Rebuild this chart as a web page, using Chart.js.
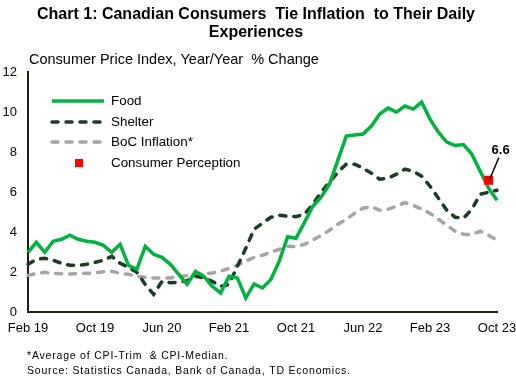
<!DOCTYPE html>
<html>
<head>
<meta charset="utf-8">
<script src="https://cdn.jsdelivr.net/npm/chart.js@4.4.0/dist/chart.umd.min.js"></script>
<style>
  html, body { margin: 0; padding: 0; background: #ffffff; }
  #wrap { width: 516px; height: 385px; }
</style>
</head>
<body>
<div id="wrap"><canvas id="myChart1" width="516" height="385"></canvas></div>
<script>

// months Feb 2019 .. Oct 2023
var months = [
    "Feb 19", "Mar 19", "Apr 19", "May 19", "Jun 19", "Jul 19", "Aug 19", "Sep 19", "Oct 19", "Nov 19", "Dec 19",
    "Jan 20", "Feb 20", "Mar 20", "Apr 20", "May 20", "Jun 20", "Jul 20", "Aug 20", "Sep 20", "Oct 20", "Nov 20", "Dec 20",
    "Jan 21", "Feb 21", "Mar 21", "Apr 21", "May 21", "Jun 21", "Jul 21", "Aug 21", "Sep 21", "Oct 21", "Nov 21", "Dec 21",
    "Jan 22", "Feb 22", "Mar 22", "Apr 22", "May 22", "Jun 22", "Jul 22", "Aug 22", "Sep 22", "Oct 22", "Nov 22", "Dec 22",
    "Jan 23", "Feb 23", "Mar 23", "Apr 23", "May 23", "Jun 23", "Jul 23", "Aug 23", "Sep 23", "Oct 23"
];
var tick_labels = ["Feb 19", "Oct 19", "Jun 20", "Feb 21", "Oct 21", "Jun 22", "Feb 23", "Oct 23"];

var food = [3.0, 3.5, 3.0, 3.55, 3.65, 3.85, 3.65, 3.55, 3.5, 3.35,
    3.0, 3.4, 2.35, 2.15, 3.3, 2.9, 2.75, 2.4, 1.9, 1.4,
    2.05, 1.8, 1.3, 0.97, 1.8, 1.72, 0.72, 1.42, 1.22, 1.64,
    2.56, 3.78, 3.70, 4.48, 5.3, 5.75, 6.4, 7.6, 8.8, 8.85,
    8.9, 9.3, 9.9, 10.2, 10.0, 10.3, 10.15, 10.5, 9.65, 9.0,
    8.5, 8.33, 8.38, 7.9, 7.05, 6.2, 5.6];

var shelter = [2.4, 2.65, 2.7, 2.6, 2.45, 2.35, 2.35, 2.4, 2.5, 2.6,
    2.8, 2.45, 2.25, 2.0, 1.4, 0.9, 1.55, 1.48, 1.5, 1.58,
    1.8, 1.72, 1.55, 1.3, 1.4, 2.3, 3.2, 4.15, 4.45, 4.75,
    4.85, 4.8, 4.78, 4.9, 5.4, 6.0, 6.5, 7.0, 7.4, 7.4,
    7.2, 6.95, 6.65, 6.7, 6.9, 7.15, 7.05, 6.8, 6.3, 5.7,
    5.1, 4.75, 4.7, 5.15, 5.9, 6.0, 6.1];

var boc_inflation = [1.85, 1.95, 2.0, 1.95, 1.93, 1.92, 1.93, 1.95, 1.97, 2.03,
    2.05, 1.95, 1.9, 1.8, 1.75, 1.72, 1.72, 1.72, 1.78, 1.83,
    1.88, 1.92, 1.97, 2.05, 2.2, 2.35, 2.55, 2.75, 2.85, 3.0,
    3.15, 3.3, 3.28, 3.4, 3.6, 3.85, 4.1, 4.4, 4.65, 4.95,
    5.2, 5.27, 5.1, 5.15, 5.3, 5.48, 5.35, 5.15, 4.95, 4.65,
    4.35, 4.05, 3.9, 3.88, 4.05, 3.85, 3.6];

// only one survey reading (Sep 23)
var perception_month = "Sep 23";
var perception_value = 6.6;

var FONT = "'Liberation Sans', Arial, sans-serif";
var GREEN = "#00B33C";
var DARK = "#1B3D24";
var GREY = "#A5A5A5";
var RED = "#FF0000";

function perceptionData() {
    let out = [];
    for (let i = 0; i < months.length; i++) {
        out.push(months[i] == perception_month ? perception_value : null);
    }
    return out;
}

// titles, legend, callout and notes drawn on the canvas
var extrasPlugin = {
    id: "extras",
    afterDraw: function (chart) {
        const ctx = chart.ctx;
        ctx.save();
        ctx.fillStyle = "#000";
        ctx.textBaseline = "middle";

        ctx.font = "bold 16px " + FONT;
        ctx.textAlign = "center";
        ctx.fillText("Chart 1: Canadian Consumers  Tie Inflation  to Their Daily", 256, 15);
        ctx.fillText("Experiences", 256, 33);

        ctx.font = "14.5px " + FONT;
        ctx.textAlign = "left";
        ctx.fillText("Consumer Price Index, Year/Year  % Change", 29, 60);

        ctx.font = "10.5px " + FONT;
        ctx.letterSpacing = "0.8px";
        ctx.fillText("*Average of CPI-Trim  & CPI-Median.", 27, 356);
        ctx.fillText("Source: Statistics Canada, Bank of Canada, TD Economics.", 27, 371);
        ctx.letterSpacing = "0px";

        // legend
        const rows = [
            { label: "Food", ds: 0, y: 101 },
            { label: "Shelter", ds: 1, y: 122 },
            { label: "BoC Inflation*", ds: 2, y: 142 },
            { label: "Consumer Perception", ds: 3, y: 163 }
        ];
        ctx.font = "13.4px " + FONT;
        rows.forEach(function (r) {
            let ds = chart.data.datasets[r.ds];
            if (r.ds == 3) {
                ctx.fillStyle = RED;
                ctx.fillRect(75, r.y - 4, 8, 8);
            } else {
                ctx.beginPath();
                ctx.strokeStyle = ds.borderColor;
                ctx.lineWidth = ds.borderWidth;
                ctx.lineCap = ds.borderCapStyle || "butt";
                ctx.setLineDash(ds.borderDash || []);
                ctx.moveTo(52, r.y);
                ctx.lineTo(104, r.y);
                ctx.stroke();
                ctx.setLineDash([]);
            }
            ctx.fillStyle = "#000";
            ctx.fillText(r.label, 111, r.y);
        });

        // callout for the perception point
        const px = chart.scales.x.getPixelForValue(months.indexOf(perception_month));
        const py = chart.scales.y.getPixelForValue(perception_value);
        ctx.beginPath();
        ctx.strokeStyle = "#000";
        ctx.lineWidth = 1.5;
        ctx.moveTo(px + 1, py - 1);
        ctx.lineTo(px + 10, py - 22);
        ctx.stroke();
        ctx.font = "bold 13px " + FONT;
        ctx.textAlign = "center";
        ctx.fillText(perception_value.toFixed(1), px + 12, py - 30);
        ctx.restore();
    }
};

const ctx = document.getElementById("myChart1").getContext("2d");
var myChart = new Chart(ctx, {
    type: "line",
    data: {
        labels: months,
        datasets: [
            {
                label: "Food",
                data: food,
                borderColor: GREEN,
                borderWidth: 3.5,
                pointRadius: 0,
                tension: 0,
                order: 2
            },
            {
                label: "Shelter",
                data: shelter,
                borderColor: DARK,
                borderWidth: 3.5,
                borderDash: [6, 8],
                borderCapStyle: "round",
                pointRadius: 0,
                tension: 0,
                order: 3
            },
            {
                label: "BoC Inflation*",
                data: boc_inflation,
                borderColor: GREY,
                borderWidth: 3.5,
                borderDash: [6, 8],
                borderCapStyle: "round",
                pointRadius: 0,
                tension: 0,
                order: 4
            },
            {
                label: "Consumer Perception",
                data: perceptionData(),
                showLine: false,
                pointStyle: "rect",
                pointRadius: 6.4,
                pointBackgroundColor: RED,
                pointBorderWidth: 0,
                borderColor: RED,
                order: 0
            }
        ]
    },
    options: {
        responsive: false,
        animation: false,
        layout: { padding: { left: 0, top: 72, bottom: 41, right: 0 } },
        plugins: {
            legend: { display: false },
            tooltip: { enabled: false }
        },
        scales: {
            x: {
                offset: false,
                grid: { display: false, drawTicks: false },
                border: { display: true, color: "#1F1F0F", width: 2 },
                afterFit: function (scale) {
                    scale.paddingLeft = 0;
                    scale.paddingRight = 19;
                },
                ticks: {
                    autoSkip: false,
                    maxRotation: 0,
                    padding: 8,
                    color: "#000",
                    font: { family: FONT, size: 13 },
                    callback: function (value, index) {
                        let lab = months[index];
                        return tick_labels.indexOf(lab) >= 0 ? lab : null;
                    }
                }
            },
            y: {
                min: 0,
                max: 12,
                grid: { display: false, drawTicks: false },
                border: { display: true, color: "#1F1F0F", width: 2 },
                afterFit: function (scale) {
                    scale.width = 28;
                },
                ticks: {
                    stepSize: 2,
                    padding: 11,
                    color: "#000",
                    font: { family: FONT, size: 13 }
                }
            }
        }
    },
    plugins: [extrasPlugin]
});
</script>
</body>
</html>
